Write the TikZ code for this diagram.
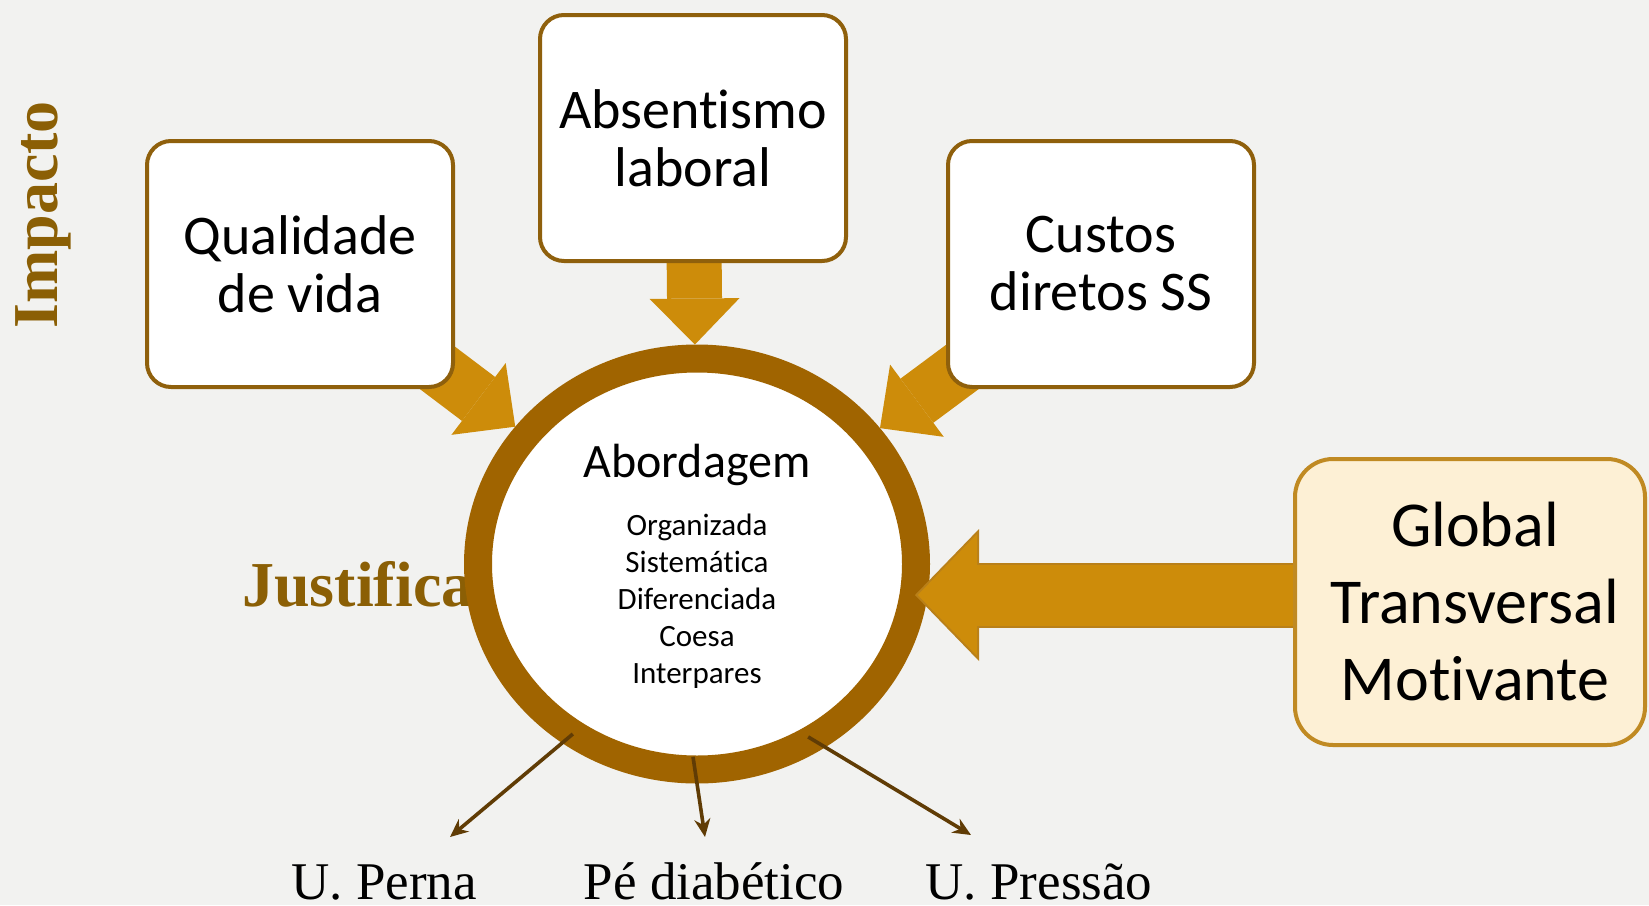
\documentclass[tikz,border=0pt]{standalone}
\usepackage{fontspec}
\setmainfont{Liberation Serif}
\newfontfamily\gillfont[Ligatures=NoCommon]{Carlito}
\usetikzlibrary{shapes.geometric, arrows.meta, calc}

\definecolor{fundo}{RGB}{242,242,240}
\definecolor{castanho}{RGB}{143,96,12}
\definecolor{anelcor}{RGB}{160,100,0}
\definecolor{ouro}{RGB}{205,140,10}
\definecolor{ourobordo}{RGB}{185,128,25}
\definecolor{creme}{RGB}{253,240,213}
\definecolor{cremebordo}{RGB}{192,138,35}
\definecolor{titulocor}{RGB}{139,95,5}
\definecolor{setacor}{RGB}{96,60,5}

\pgfdeclarelayer{camadafundo}
\pgfdeclarelayer{baixo}
\pgfsetlayers{camadafundo,baixo,main}

\begin{document}
\begin{tikzpicture}[x=0.5pt, y=-0.5pt,
        caixa/.style={draw=castanho, line width=2pt, fill=white, rounded corners=12pt,
            minimum width=153pt, minimum height=123pt, align=center,
            font=\gillfont\fontsize{28}{29}\selectfont},
        caixaG/.style={draw=cremebordo, line width=2pt, fill=creme, rounded corners=19pt,
            minimum width=175pt, minimum height=143pt, align=center,
            font=\gillfont\fontsize{32}{38.5}\selectfont},
        aro/.style={ellipse, draw=anelcor, line width=14pt, fill=white, inner sep=0pt,
            minimum width=219pt, minimum height=205.5pt},
        lista/.style={align=center, inner sep=0pt, font=\gillfont\fontsize{15.5}{18.5}\selectfont},
        titulo/.style={text=titulocor, inner sep=0pt, font=\bfseries\fontsize{32}{36}\selectfont},
        rotulo/.style={inner sep=0pt, font=\fontsize{26.5}{30}\selectfont},
        seta/.style={ouro, line width=27.5pt, -{Triangle[length=23pt, width=45pt, line width=0pt]}},
        setaGborda/.style={ourobordo, line width=32.5pt, -{Triangle[length=32pt, width=66pt, line width=0pt]}},
        setaG/.style={ouro, line width=30.5pt, shorten >=1.4pt, -{Triangle[length=29.6pt, width=61pt, line width=0pt]}},
        fina/.style={setacor, line width=1.8pt, -{Stealth[length=9pt, width=8pt]}}]
    \begin{pgfonlayer}{camadafundo}
        \fill[fundo] (0,0) rectangle (1649,905);
    \end{pgfonlayer}
    \useasboundingbox (0,0) rectangle (1649,905);

    \node[titulo, rotate=90, anchor=base] (impacto) at (57,215) {Impacto};
    \node[titulo, anchor=base west] (justif) at (242,606) {Justifica};
    \node[aro] (anel) at (697,564) {};
    \node[font=\gillfont\fontsize{24}{28}\selectfont, anchor=base, inner sep=0pt] (abord) at (697,477) {Abordagem};
    \node[lista] (modos) at (697,601) {Organizada\\Sistemática\\Diferenciada\\Coesa\\Interpares};
    \node[caixa] (qual) at (300,264) {Qualidade\\de vida};
    \node[caixa] (absent) at (693,138) {Absentismo\\laboral};
    \node[caixa] (custos) at (1101,264) {Custos\\diretos SS};
    \node[caixaG] (glob) at (1470,602) {\hspace*{5pt}Global\\\hspace*{5pt}Transversal\\\hspace*{5pt}Motivante};
    \node[rotulo, anchor=base] (perna) at (384,899) {U. Perna};
    \node[rotulo, anchor=base] (diab) at (714,899) {Pé diabético};
    \node[rotulo, anchor=base] (pressao) at (1039,899) {U. Pressão};

    \coordinate (pontaG) at (915,595);
    \coordinate (pontaL) at (450,837);
    \coordinate (pontaM) at (705,837);
    \coordinate (pontaR) at (971,835);

    \begin{pgfonlayer}{baixo}
        \draw[seta] (qual.center) -- (anel);
        \draw[seta] (absent.center) -- (anel);
        \draw[seta] (custos.center) -- (anel);
    \end{pgfonlayer}

    \draw[setaGborda] (glob.west |- pontaG) -- (pontaG);
    \draw[setaG] (glob.west |- pontaG) -- (pontaG);

    \draw[fina, shorten <=-7pt] (anel.233) -- (pontaL);
    \draw[fina, shorten <=-13.5pt] (anel.270) -- (pontaM);
    \draw[fina, shorten <=-10pt] (anel.305) -- (pontaR);
\end{tikzpicture}
\end{document}
